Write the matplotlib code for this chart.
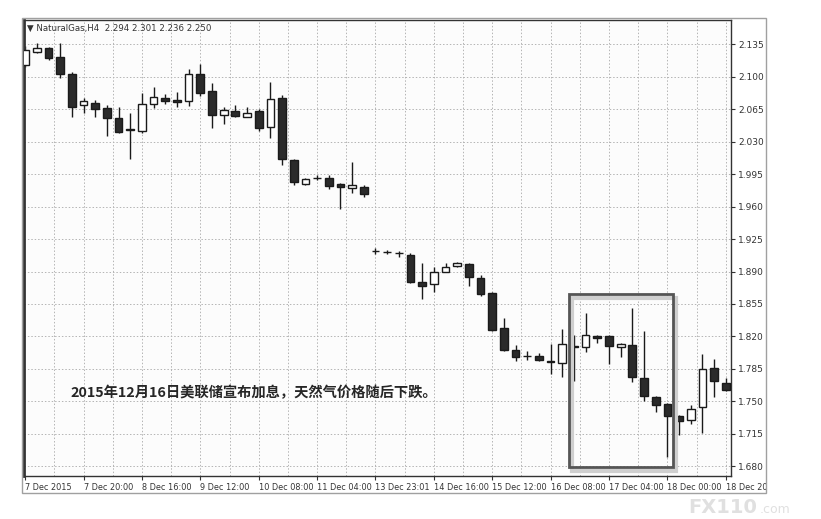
import matplotlib
matplotlib.use("Agg")
import matplotlib.pyplot as plt
from matplotlib.patches import Rectangle
from matplotlib.transforms import Bbox, TransformedBbox

# ---- data (H4 candles, NaturalGas) ----
opens = [2.113, 2.127, 2.131, 2.121, 2.103, 2.070, 2.072, 2.066, 2.056, 2.044,
         2.042, 2.071, 2.077, 2.075, 2.074, 2.103, 2.085, 2.059, 2.063, 2.057,
         2.063, 2.046, 2.077, 2.010, 1.984, 1.991, 1.991, 1.984, 1.980, 1.981,
         1.9125, 1.911, 1.910, 1.908, 1.879, 1.876, 1.890, 1.896, 1.898, 1.883,
         1.867, 1.829, 1.805, 1.799, 1.799, 1.794, 1.791, 1.810, 1.809, 1.8206,
         1.820, 1.809, 1.811, 1.775, 1.755, 1.747, 1.734, 1.730, 1.744, 1.786,
         1.770]
highs = [2.133, 2.136, 2.132, 2.136, 2.105, 2.077, 2.075, 2.070, 2.067, 2.061,
         2.083, 2.089, 2.081, 2.084, 2.108, 2.114, 2.093, 2.067, 2.070, 2.067,
         2.065, 2.094, 2.080, 2.011, 1.991, 1.994, 1.994, 1.985, 2.008, 1.983,
         1.9155, 1.913, 1.912, 1.910, 1.899, 1.895, 1.899, 1.900, 1.899, 1.886,
         1.868, 1.840, 1.811, 1.804, 1.802, 1.812, 1.828, 1.821, 1.845, 1.822,
         1.821, 1.813, 1.851, 1.826, 1.756, 1.748, 1.735, 1.746, 1.801, 1.796,
         1.775]
lows = [2.110, 2.126, 2.118, 2.099, 2.057, 2.061, 2.057, 2.036, 2.039, 2.011,
        2.039, 2.066, 2.071, 2.067, 2.069, 2.079, 2.045, 2.049, 2.057, 2.057,
        2.042, 2.034, 2.005, 1.983, 1.983, 1.989, 1.979, 1.957, 1.975, 1.970,
        1.909, 1.909, 1.906, 1.878, 1.860, 1.868, 1.889, 1.895, 1.874, 1.864,
        1.826, 1.804, 1.793, 1.795, 1.793, 1.780, 1.776, 1.772, 1.803, 1.813,
        1.790, 1.798, 1.771, 1.750, 1.738, 1.690, 1.714, 1.726, 1.716, 1.755,
        1.761]
closes = [2.129, 2.131, 2.120, 2.103, 2.067, 2.074, 2.065, 2.055, 2.040, 2.043,
          2.071, 2.078, 2.074, 2.073, 2.103, 2.083, 2.059, 2.064, 2.058, 2.061,
          2.045, 2.076, 2.011, 1.986, 1.990, 1.9905, 1.982, 1.981, 1.983, 1.974,
          1.912, 1.9108, 1.9095, 1.879, 1.874, 1.890, 1.895, 1.899, 1.884, 1.866,
          1.827, 1.805, 1.798, 1.7985, 1.795, 1.7925, 1.812, 1.8088, 1.821, 1.8184,
          1.810, 1.812, 1.776, 1.756, 1.746, 1.734, 1.729, 1.742, 1.785, 1.772,
          1.762]

price_ticks = [2.135, 2.100, 2.065, 2.030, 1.995, 1.960, 1.925, 1.890, 1.855,
               1.820, 1.785, 1.750, 1.715, 1.680]
date_tick_bars = [0, 5, 10, 15, 20, 25, 30, 35, 40, 45, 50, 55, 60]
date_labels = ["7 Dec 2015", "7 Dec 20:00", "8 Dec 16:00", "9 Dec 12:00",
               "10 Dec 08:00", "11 Dec 04:00", "13 Dec 23:01", "14 Dec 16:00",
               "15 Dec 12:00", "16 Dec 08:00", "17 Dec 04:00", "18 Dec 00:00",
               "18 Dec 20:00"]
header = "\u25BC NaturalGas,H4  2.294 2.301 2.236 2.250"
note = "2015年12月16日美联储宣布加息，天然气价格随后下跌。"
box_bars = (46.55, 55.5)
box_prices = (1.6793, 1.8658)

W, H = 821, 519
fig = plt.figure(figsize=(W / 100, H / 100), dpi=100)
fig.patch.set_facecolor("white")

# outer frame
fig.add_artist(Rectangle((22 / W, 1 - 493 / H), (766 - 22) / W, (493 - 18) / H,
                         transform=fig.transFigure, fill=False,
                         edgecolor="#a0a0a0", lw=1.0))

ax = fig.add_axes([24 / W, 1 - 476 / H, (731 - 24) / W, (476 - 20) / H])
ax.set_facecolor("#fcfcfc")
ax.set_xlim(-0.1, 60.45)
ax.set_ylim(1.6695, 2.1612)

# grid
for p in price_ticks:
    ax.axhline(p, color="#b4b4b4", lw=0.7, ls=(0, (1.5, 2)), zorder=0)
k = 2.5
while k < 60.4:
    ax.axvline(k, color="#b4b4b4", lw=0.7, ls=(0, (1.5, 2)), zorder=0)
    k += 2.5

bw = 0.66
for i, (o, h, l, c) in enumerate(zip(opens, highs, lows, closes)):
    ax.plot([i, i], [l, h], color="#1a1a1a", lw=1.0, zorder=2,
            solid_capstyle="butt")
    bottom = min(o, c)
    height = max(abs(c - o), 0.0006)
    face = "white" if c > o else "#2a2a2a"
    ax.add_patch(Rectangle((i - bw / 2, bottom), bw, height, facecolor=face,
                           edgecolor="#1a1a1a", lw=1.0, zorder=3))

# highlight box with shadow
ax.add_patch(Rectangle((box_bars[0] + 0.25, box_prices[0] - 0.004),
                       box_bars[1] - box_bars[0], box_prices[1] - box_prices[0],
                       fill=False, edgecolor="#cfcfcf", lw=3, zorder=4))
ax.add_patch(Rectangle((box_bars[0], box_prices[0]),
                       box_bars[1] - box_bars[0], box_prices[1] - box_prices[0],
                       fill=False, edgecolor="#555555", lw=2, zorder=5))

ax.text(3.85, 1.759, note, fontsize=10.3, color="#262626",
        family=["Noto Sans CJK SC", "DejaVu Sans"], fontweight="bold",
        ha="left", va="center", zorder=6)
ax.text(0.004, 0.982, header, transform=ax.transAxes, fontsize=6.2,
        family=["DejaVu Sans"], color="#333333", ha="left", va="center")

# axes styling
for s in ax.spines.values():
    s.set_color("#333333")
    s.set_linewidth(1.0)
ax.spines["left"].set_linewidth(2.0)
ax.yaxis.tick_right()
ax.set_yticks(price_ticks)
ax.set_yticklabels([f"{p:.3f}" for p in price_ticks])
ax.tick_params(axis="y", direction="out", length=3, width=0.8, pad=2,
               labelsize=6.5, colors="#333333")
ax.set_xticks(date_tick_bars)
ax.set_xticklabels(date_labels, ha="left")
ax.tick_params(axis="x", direction="out", length=3, width=0.8, pad=2,
               labelsize=5.9, colors="#333333")
clip = TransformedBbox(Bbox([[22 / W, 0.0], [766 / W, 1.0]]), fig.transFigure)
for t in ax.get_xticklabels():
    t.set_clip_on(True)
    t.set_clip_box(clip)

# watermark
fig.text(688 / W, 1 - 517 / H, "FX110", fontsize=14, color="#e0e0e0",
         fontweight="bold", ha="left", va="bottom", zorder=10)
fig.text(760 / W, 1 - 516 / H, ".com", fontsize=9, color="#e0e0e0",
         ha="left", va="bottom", zorder=10)

fig.savefig("out.png", dpi=100)
